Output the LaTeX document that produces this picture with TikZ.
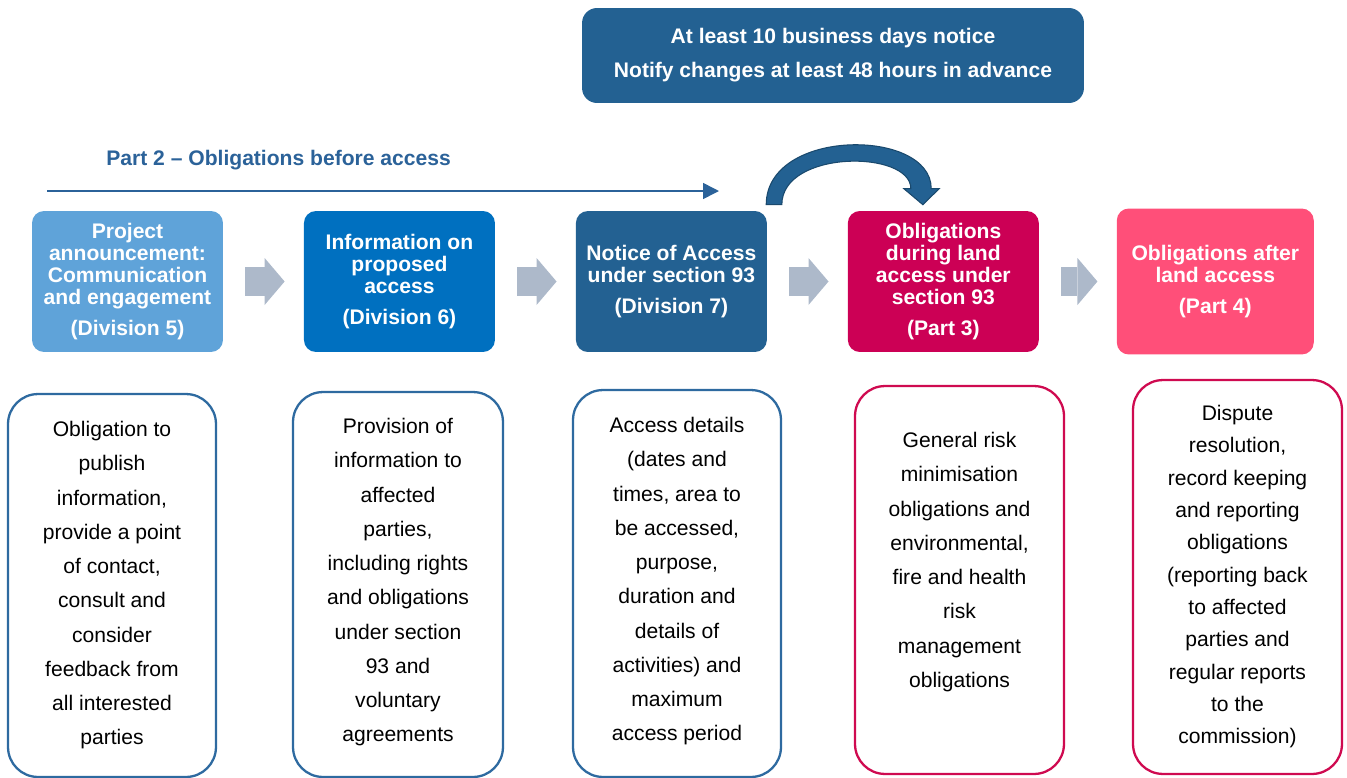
\documentclass[tikz,border=0pt]{standalone}
\usepackage{fontspec}
\setmainfont{Liberation Sans}
\usetikzlibrary{positioning, arrows.meta}

\definecolor{noticeblue}{HTML}{236192}
\definecolor{divfive}{HTML}{5FA3D9}
\definecolor{divsix}{HTML}{0070C0}
\definecolor{partthree}{HTML}{CC0055}
\definecolor{partfour}{HTML}{FF4F79}
\definecolor{flowgray}{HTML}{ADB9CA}
\definecolor{lineblue}{HTML}{2E6AA0}
\definecolor{linered}{HTML}{CF0A50}
\definecolor{labelblue}{HTML}{2B6299}

\tikzstyle{notice} = [
    rectangle,
    rounded corners=0.3cm,
    minimum width=10.04cm,
    minimum height=1.9cm,
    fill=noticeblue,
    text=white,
    align=center,
    font=\bfseries\fontsize{12}{19.3}\selectfont
]
\tikzstyle{stage} = [
    rectangle,
    rounded corners=0.24cm,
    minimum width=3.82cm,
    minimum height=2.82cm,
    inner sep=0pt,
    text=white,
    align=center,
    font=\bfseries\fontsize{12}{12.5}\selectfont
]
\tikzstyle{detail} = [
    rectangle,
    rounded corners=0.6cm,
    minimum width=4.16cm,
    minimum height=7.66cm,
    line width=1.3pt,
    fill=white
]
\tikzstyle{detailtext} = [
    inner sep=0pt,
    align=center,
    font=\fontsize{12}{19.5}\selectfont
]
\tikzstyle{flow} = [
    draw=flowgray,
    line width=0.58cm,
    shorten <=0.44cm,
    shorten >=0.38cm,
    -{Triangle[length=0.4cm,width=0.94cm,line width=0pt]}
]
\tikzstyle{timeline} = [
    draw=labelblue,
    line width=0.9pt,
    -{Triangle[length=0.32cm,width=0.32cm]}
]
\tikzstyle{jump} = [
    fill=noticeblue,
    draw=noticeblue!75!black,
    line width=0.6pt,
    line join=miter
]

\begin{document}
\begin{tikzpicture}[x=0.02cm, y=-0.02cm, node distance=5.44cm]
\useasboundingbox (0,0) rectangle (1347,778);

\node (notice) [notice] at (833,55.5)
{At least 10 business days notice\\Notify changes at least 48 hours in advance};

\node (partlabel) [anchor=west, inner sep=0pt, text=labelblue,
    font=\bfseries\fontsize{12}{14}\selectfont] at (106,160)
{Part 2 – Obligations before access};

\coordinate (tl-start) at (47,191);
\coordinate (tl-end) at (719,191);
\draw [timeline] (tl-start) -- (tl-end);

% stages along the top row
\node (p1) [stage, fill=divfive] at (127.5,281.5)
{Project\\announcement:\\Communication\\and engagement\\[5pt](Division 5)};

\node (p2) [stage, fill=divsix, right of=p1]
{Information on\\proposed\\access\\[5pt](Division 6)};

\node (p3) [stage, fill=noticeblue, right of=p2]
{Notice of Access\\under section 93\\[5pt](Division 7)};

\node (p4) [stage, fill=partthree, right of=p3]
{Obligations\\during land\\access under\\section 93\\[5pt](Part 3)};

\node (p5) [stage, fill=partfour, right of=p4,
    minimum width=3.94cm, minimum height=2.92cm]
{Obligations after\\land access\\[5pt](Part 4)};

\draw [flow] (p1) -- (p2);
\draw [flow] (p2) -- (p3);
\draw [flow] (p3) -- (p4);
\draw [flow] (p4) -- (p5);

% curved arrow over to the part 3 stage
\coordinate (jump-start) at ([shift={(-1,-6)}]p3.north east);
\coordinate (jump-tip) at ([shift={(-20.5,-6)}]p4.north);
\filldraw [jump] (jump-start)
    .. controls +(0,-77) and +(0,-61) .. ++(165,-16)
    -- ++(8,0) -- (jump-tip) -- ++(-19,-16) -- ++(7,0)
    .. controls +(0,-39) and +(0,-55) .. ++(-129,16)
    -- cycle;

% detail boxes
\node (b1) [detail, draw=lineblue] at (112,585.5) {};
\node (b2) [detail, draw=lineblue, minimum width=4.2cm,
    minimum height=7.7cm] at (398,584.5) {};
\node (b3) [detail, draw=lineblue, minimum height=7.74cm] at (677,583.5) {};
\node (b4) [detail, draw=linered, minimum width=4.18cm,
    minimum height=7.76cm] at (959.5,580) {};
\node (b5) [detail, draw=linered, minimum width=4.18cm,
    minimum height=7.88cm] at (1237.5,577) {};

\node (b1text) [detailtext, below=0.56cm of b1.north]
{Obligation to\\publish\\information,\\provide a point\\of contact,\\consult and\\consider\\feedback from\\all interested\\parties};

\node (b2text) [detailtext, below=0.54cm of b2.north]
{Provision of\\information to\\affected\\parties,\\including rights\\and obligations\\under section\\93 and\\voluntary\\agreements};

\node (b3text) [detailtext, below=0.56cm of b3.north]
{Access details\\(dates and\\times, area to\\be accessed,\\purpose,\\duration and\\details of\\activities) and\\maximum\\access period};

\node (b4text) [detailtext, below=0.94cm of b4.north]
{General risk\\minimisation\\obligations and\\environmental,\\fire and health\\risk\\management\\obligations};

\node (b5text) [detailtext, below=0.52cm of b5.north,
    font=\fontsize{12}{18.4}\selectfont]
{Dispute\\resolution,\\record keeping\\and reporting\\obligations\\(reporting back\\to affected\\parties and\\regular reports\\to the\\commission)};

\end{tikzpicture}
\end{document}
